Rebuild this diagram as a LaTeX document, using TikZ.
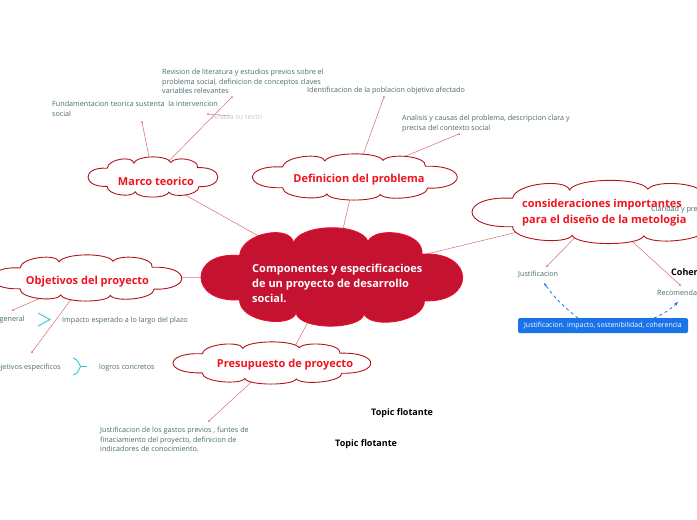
\documentclass[tikz,border=0pt]{standalone}
\usepackage{fontspec}
\setmainfont{Open Sans}
\usetikzlibrary{backgrounds,arrows.meta}
\definecolor{crim}{HTML}{C41230}
\definecolor{crimline}{HTML}{E8102A}
\definecolor{cloudline}{HTML}{B3141C}
\definecolor{titlered}{HTML}{F0141E}
\definecolor{linkred}{HTML}{D66A78}
\definecolor{leaftxt}{HTML}{4A6B6B}
\definecolor{ghost}{HTML}{C9C9C9}
\definecolor{cyanrel}{HTML}{33C7CC}
\definecolor{bluebox}{HTML}{1A73E8}
% cloud outline: [style]{cx}{cy}{width}{height}
\newcommand\mmcloud[5][]{%
  \begin{scope}[shift={(#2,#3)}, xscale=#4/2.04, yscale=#5/2.06]
  \path[cloudbox,#1] (-0.72,-0.45)
    .. controls (-0.70,-0.95) and (-0.32,-1.10) .. (-0.30,-0.72)
    .. controls (-0.25,-1.12) and (0.22,-1.15) .. (0.28,-0.75)
    .. controls (0.34,-1.08) and (0.72,-0.95) .. (0.70,-0.48)
    .. controls (1.12,-0.55) and (1.12,0.55) .. (0.72,0.50)
    .. controls (0.72,0.95) and (0.30,1.10) .. (0.25,0.78)
    .. controls (0.22,1.12) and (-0.25,1.12) .. (-0.28,0.76)
    .. controls (-0.32,1.08) and (-0.72,0.95) .. (-0.72,0.48)
    .. controls (-1.12,0.55) and (-1.12,-0.55) .. (-0.72,-0.45) -- cycle;
  \end{scope}}
\begin{document}
\begin{tikzpicture}[x=1pt,y=-1pt,
  cloudbox/.style={draw=cloudline, line width=0.9pt, fill=white},
  title/.style={text=titlered, font=\bfseries\fontsize{11}{13}\selectfont, inner sep=0pt},
  leaf/.style={text=leaftxt, font=\fontsize{7.2}{9.4}\selectfont, inner sep=0pt, align=left},
  link/.style={draw=linkred, line width=0.5pt},
  dotend/.style={circle, fill=linkred, inner sep=0pt, minimum size=2pt},
  rel/.style={draw=cyanrel, line width=0.9pt},
  floating/.style={font=\bfseries\fontsize{9}{10}\selectfont, text=black, inner sep=0pt, anchor=base west},
  dasharrow/.style={draw=bluebox, line width=0.8pt, dashed, -{Stealth[length=4pt]}}
]
\useasboundingbox (0,0) rectangle (697,520);

% cloud centres
\coordinate (central) at (332,277);
\coordinate (marco) at (153,177);
\coordinate (defin) at (355,177);
\coordinate (consid) at (600,212);
\coordinate (objet) at (87,278);
\coordinate (presu) at (272,363);

% end dots
\node[dotend] (fundot) at (142,122) {};
\node[dotend] (revdot) at (232,97) {};
\node[dotend] (anadot) at (208,114) {};
\node[dotend] (identdot) at (384,97) {};
\node[dotend] (analdot) at (459,134) {};
\node[dotend] (justdot) at (547,266) {};
\node[dotend] (recdot) at (680,285) {};
\node[dotend] (gendot) at (13,310) {};
\node[dotend] (espdot) at (32,352) {};
\node[dotend] (gasdot) at (209,421) {};
\coordinate (anaend) at (230,116);
\coordinate (presuanchor) at (285,365);

% links (under the clouds)
\draw[link] (marco) -- (central);
\draw[link] (defin) -- (central);
\draw[link] (consid) -- (central);
\draw[link] (objet) -- (central);
\draw[link] (presuanchor) -- (central);
\draw[link] (marco) -- (fundot.center);
\draw[link] (marco) -- (revdot.center);
\draw[link] (defin) -- (identdot.center);
\draw[link] (defin) -- (analdot.center);
\draw[link] (consid) -- (justdot.center);
\draw[link] (consid) -- (recdot.center);
\draw[link] (objet) -- (gendot.center);
\draw[link] (objet) -- (espdot.center);
\draw[link] (presu) -- (gasdot.center);
\draw[link] (anaend) -- (anadot.center);

% clouds
\mmcloud[fill=crim, draw=crimline]{332}{277}{262}{98}
\mmcloud{153}{177}{130}{40}
\mmcloud{355}{177}{205}{46}
\mmcloud{610}{212}{276}{63}
\mmcloud{87}{278}{190}{46}
\mmcloud{272}{363}{198}{42}

% cloud titles
\node[anchor=north west, inner sep=0pt, text=white, align=left, font=\bfseries\fontsize{11}{15}\selectfont] (centraltxt) at (252,263.8) {Componentes y especificacioes\\de un proyecto de desarrollo\\social.};
\node[title] (marcotxt) at (156,181) {Marco teorico};
\node[title] (defintxt) at (359,180) {Definicion del problema};
\node[title, anchor=north west, align=left, font=\bfseries\fontsize{11}{15.5}\selectfont] (considtxt) at (522,199) {consideraciones importantes\\para el diseño de la metologia};
\node[title] (objettxt) at (87.5,281.5) {Objetivos del proyecto};
\node[title] (presutxt) at (285,365) {Presupuesto de proyecto};

% leaves
\node[leaf, anchor=north west] (rev) at (162,69) {Revision de literatura y estudios previos sobre el\\problema social, definicion de conceptos claves\\variables relevantes};
\node[leaf, anchor=north west] (fund) at (52,101) {Fundamentacion teorica sustenta\ \ la intervencion\\social};
\node[leaf, anchor=base west, text=ghost] (anada) at (212,119.5) {Añada su texto};
\node[leaf, anchor=base west] (ident) at (307,92.5) {Identificacion de la poblacion objetivo afectado};
\node[leaf, anchor=north west] (anal) at (402,115) {Analisis y causas del problema, descripcion clara y\\precisa del contexto social};
\node[leaf, anchor=base west] (justleaf) at (518,276.5) {Justificacion};
\node[leaf, anchor=base west] (recleaf) at (657,295.5) {Recomendaciones};
\node[leaf, anchor=base west] (clar) at (651,211.5) {Claridad y precision};
\node[anchor=base west, inner sep=0pt, font=\bfseries\fontsize{9}{10}\selectfont] (coher) at (671,275) {Coherencia};
\node[leaf, anchor=base east] (objgen) at (25,321.5) {Objetivo general};
\node[leaf, anchor=base west] (impacto) at (62,322.5) {Impacto esperado a lo largo del plazo};
\node[leaf, anchor=base east] (objesp) at (61,369.5) {Objetivos especificos};
\node[leaf, anchor=base west] (logros) at (99,369.5) {logros concretos};
\node[leaf, anchor=north west] (gastos) at (100,427) {Justificacion de los gastos previos , funtes de\\finaciamiento del proyecto, definicion de\\indicadores de conocimiento.};
\node[floating] (float1) at (371,415) {Topic flotante};
\node[floating] (float2) at (335,446) {Topic flotante};

% blue box
\node[fill=bluebox, text=white, rounded corners=1.5pt, minimum width=170pt, minimum height=15pt, inner sep=0pt, font=\fontsize{7}{8}\selectfont] (jbox) at (603,325.5) {Justificacion. impacto, sostenibilidad, coherencia};
\coordinate (justarr) at (544,283);
\coordinate (recarr) at (678,302);
\coordinate (jboxl) at (578,318);
\coordinate (jboxr) at (654,318);

% relation marks
\draw[rel] (38,313) -- (50,319.5) -- (38,326);
\draw[rel] (73,358) .. controls (79,359) and (79,366) .. (81,366.5) .. controls (79,367) and (79,374) .. (73,375);
\draw[rel] (81,366.5) -- (87,366.5);

% dashed arrows
\draw[dasharrow] (jboxl) to[bend left=8] (justarr);
\draw[dasharrow] (jboxr) to[bend right=10] (recarr);
\end{tikzpicture}
\end{document}
